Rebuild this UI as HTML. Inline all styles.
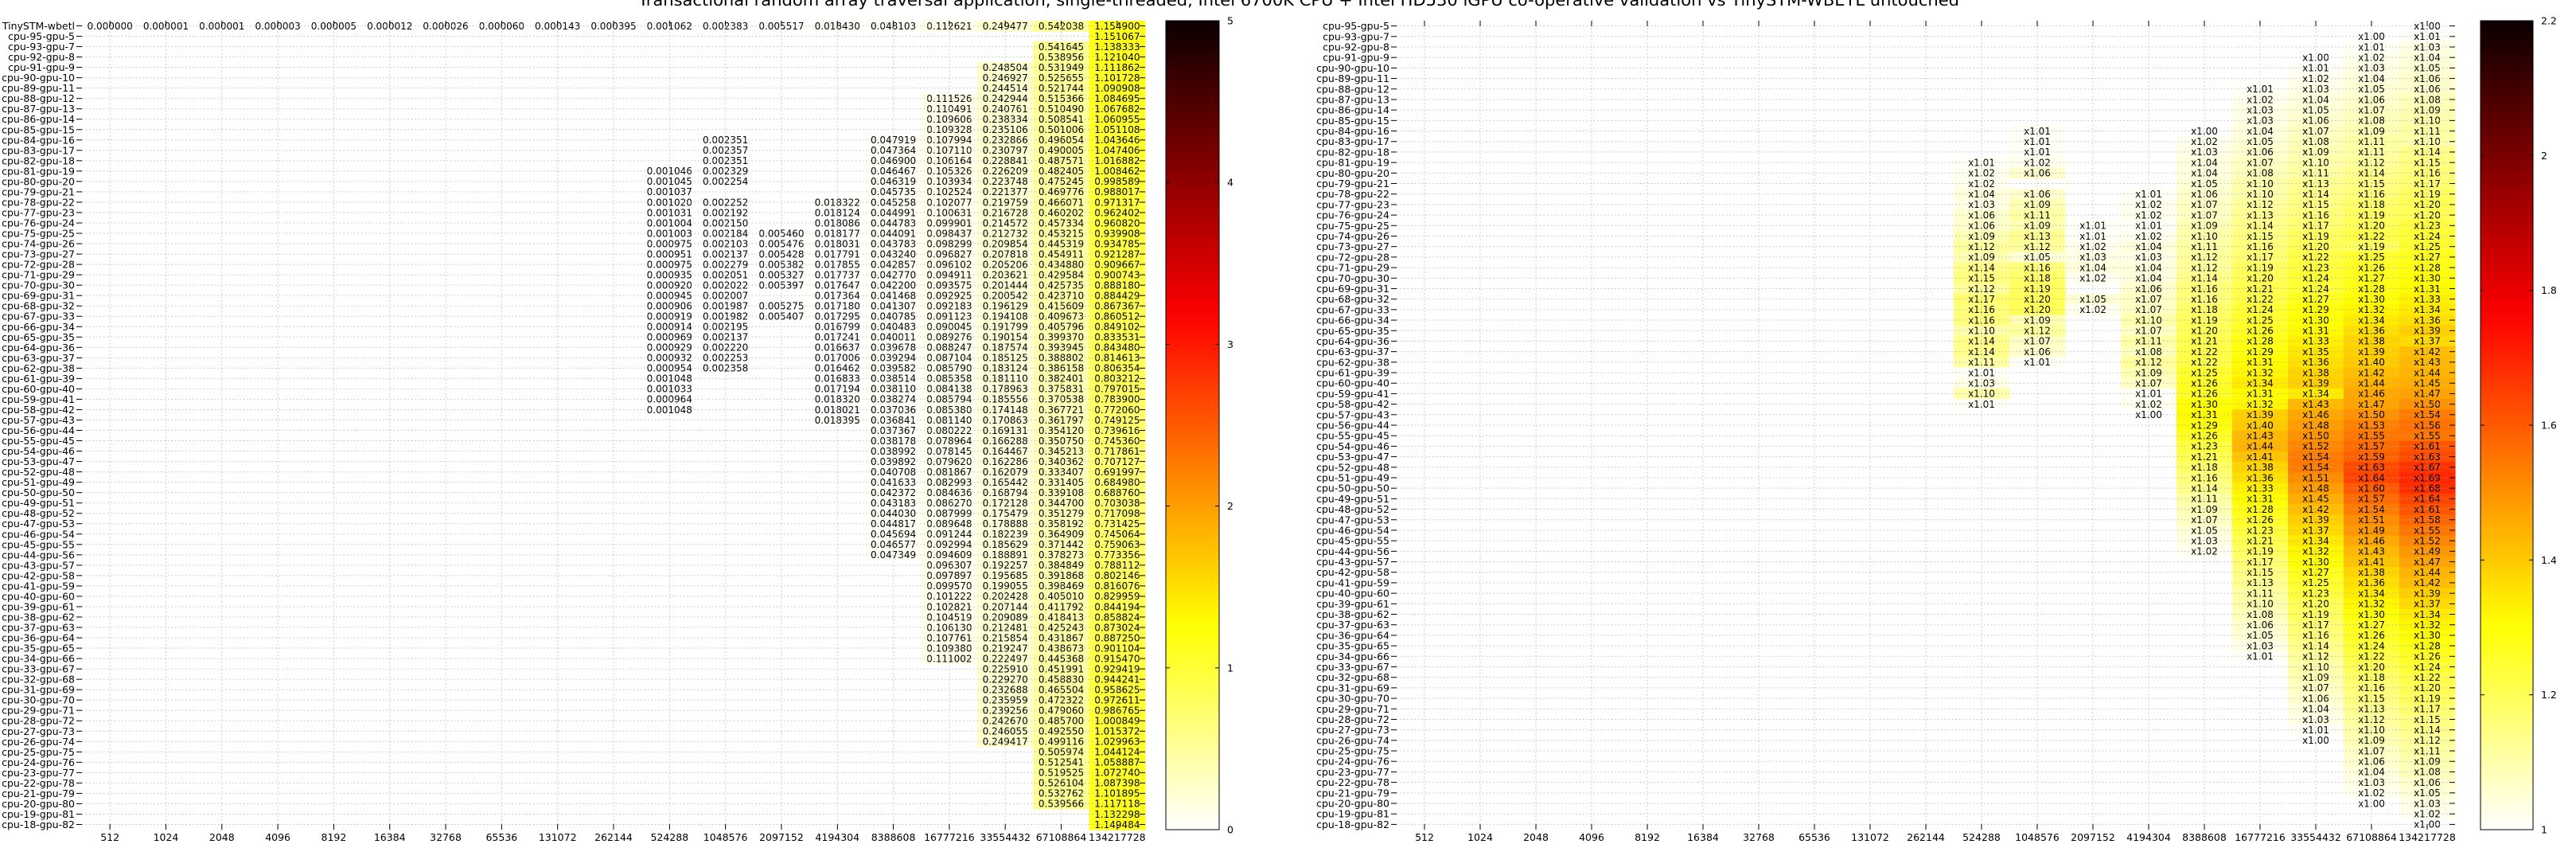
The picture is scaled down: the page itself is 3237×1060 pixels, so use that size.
<!DOCTYPE html>
<html><head><meta charset="utf-8">
<style>
html,body{margin:0;padding:0;background:#fff;}
svg{display:block;font-family:"DejaVu Sans","Liberation Sans",sans-serif;}
</style></head>
<body>
<svg id="chart" xmlns="http://www.w3.org/2000/svg" width="3237" height="1060" viewBox="0 0 3237 1060">
<text x="1632" y="7" font-size="20" text-anchor="middle" textLength="1660" lengthAdjust="spacingAndGlyphs">Transactional random array traversal application, single-threaded, Intel 6700K CPU + Intel HD530 iGPU co-operative validation vs TinySTM-WBETL untouched</text>
<g id="left"></g>
<g id="right"></g>
</svg>
<script>
const colLabels = ["512","1024","2048","4096","8192","16384","32768","65536","131072","262144","524288","1048576","2097152","4194304","8388608","16777216","33554432","67108864","134217728"];
const tinyRow = [0.000000,0.000001,0.000001,0.000003,0.000005,0.000012,0.000026,0.000060,0.000143,0.000395,0.001062,0.002383,0.005517,0.018430,0.048103,0.112621,0.249477,0.542038,1.154900];
// left columns: start row (in left row index) + values
const L10start = 14;
const L10 = [0.001046,0.001045,0.001037,0.001020,0.001031,0.001004,0.001003,0.000975,0.000951,0.000975,0.000935,0.000920,0.000945,0.000906,0.000919,0.000914,0.000969,0.000929,0.000932,0.000954,0.001048,0.001033,0.000964,0.001048];
const L11start = 11;
const L11 = [0.002351,0.002357,0.002351,0.002329,0.002254,null,0.002252,0.002192,0.002150,0.002184,0.002103,0.002137,0.002279,0.002051,0.002022,0.002007,0.001987,0.001982,0.002195,0.002137,0.002220,0.002253,0.002358];
const L12start = 20;
const L12 = [0.005460,0.005476,0.005428,0.005382,0.005327,0.005397,null,0.005275,0.005407];
const L13start = 17;
const L13 = [0.018322,0.018124,0.018086,0.018177,0.018031,0.017791,0.017855,0.017737,0.017647,0.017364,0.017180,0.017295,0.016799,0.017241,0.016637,0.017006,0.016462,0.016833,0.017194,0.018320,0.018021,0.018395];
const L14start = 11;
const L14 = [0.047919,0.047364,0.046900,0.046467,0.046319,0.045735,0.045258,0.044991,0.044783,0.044091,0.043783,0.043240,0.042857,0.042770,0.042200,
0.041468,0.041307,0.040785,0.040483,0.040011,0.039678,0.039294,0.039582,0.038514,0.038110,0.038274,0.037036,0.036841,0.037367,0.038178,0.038992,0.039892,0.040708,0.041633,0.042372,0.043183,
0.044030,0.044817,0.045694,0.046577,0.047349];
const L15start = 7;
const L15 = [0.111526,0.110491,0.109606,0.109328,0.107994,0.107110,0.106164,0.105326,0.103934,0.102524,0.102077,0.100631,0.099901,0.098437,0.098299,0.096827,0.096102,0.094911,0.093575,
0.092925,0.092183,0.091123,0.090045,0.089276,0.088247,0.087104,0.085790,0.085358,0.084138,0.085794,0.085380,0.081140,0.080222,0.078964,0.078145,0.079620,0.081867,0.082993,0.084636,0.086270,
0.087999,0.089648,0.091244,0.092994,0.094609,0.096307,0.097897,0.099570,0.101222,0.102821,0.104519,0.106130,0.107761,0.109380,0.111002];
const L16start = 4;
const L16 = [0.248504,0.246927,0.244514,0.242944,0.240761,0.238334,0.235106,0.232866,0.230797,0.228841,0.226209,0.223748,0.221377,0.219759,0.216728,0.214572,0.212732,0.209854,0.207818,0.205206,0.203621,0.201444,
0.200542,0.196129,0.194108,0.191799,0.190154,0.187574,0.185125,0.183124,0.181110,0.178963,0.185556,0.174148,0.170863,0.169131,0.166288,0.164467,0.162286,0.162079,0.165442,0.168794,0.172128,
0.175479,0.178888,0.182239,0.185629,0.188891,0.192257,0.195685,0.199055,0.202428,0.207144,0.209089,0.212481,0.215854,0.219247,0.222497,0.225910,0.229270,0.232688,0.235959,0.239256,0.242670,0.246055,0.249417];
const L17start = 2;
const L17 = [0.541645,0.538956,0.531949,0.525655,0.521744,0.515366,0.510490,0.508541,0.501006,0.496054,0.490005,0.487571,0.482405,0.475245,0.469776,0.466071,0.460202,0.457334,0.453215,0.445319,0.454911,0.434880,0.429584,0.425735,
0.423710,0.415609,0.409673,0.405796,0.399370,0.393945,0.388802,0.386158,0.382401,0.375831,0.370538,0.367721,0.361797,0.354120,0.350750,0.345213,0.340362,0.333407,0.331405,0.339108,0.344700,
0.351279,0.358192,0.364909,0.371442,0.378273,0.384849,0.391868,0.398469,0.405010,0.411792,0.418413,0.425243,0.431867,0.438673,0.445368,0.451991,0.458830,0.465504,0.472322,0.479060,0.485700,0.492550,0.499116,0.505974,0.512541,0.519525,0.526104,0.532762,0.539566];
const L18start = 1;
const L18 = [1.151067,1.138333,1.121040,1.111862,1.101728,1.090908,1.084695,1.067682,1.060955,1.051108,1.043646,1.047406,1.016882,1.008462,0.998589,0.988017,0.971317,0.962402,0.960820,0.939908,0.934785,0.921287,0.909667,0.900743,0.888180,
0.884429,0.867367,0.860512,0.849102,0.833531,0.843480,0.814613,0.806354,0.803212,0.797015,0.783900,0.772060,0.749125,0.739616,0.745360,0.717861,0.707127,0.691997,0.684980,0.688760,0.703038,
0.717098,0.731425,0.745064,0.759063,0.773356,0.788112,0.802146,0.816076,0.829959,0.844194,0.858824,0.873024,0.887250,0.901104,0.915470,0.929419,0.944241,0.958625,0.972611,0.986765,1.000849,1.015372,1.029963,1.044124,1.058887,1.072740,1.087398,1.101895,1.117118,1.132298,1.149484];
// right columns: start row (in right row index) + values
const R10start = 13;
const R10 = [1.01,1.02,1.02,1.04,1.03,1.06,1.06,1.09,1.12,1.09,1.14,1.15,1.12,1.17,1.16,1.16,1.10,1.14,1.14,1.11,1.01,1.03,1.10,1.01];
const R11start = 10;
const R11 = [1.01,1.01,1.01,1.02,1.06,null,1.06,1.09,1.11,1.09,1.13,1.12,1.05,1.16,1.18,1.19,1.20,1.20,1.09,1.12,1.07,1.06,1.01];
const R12start = 19;
const R12 = [1.01,1.01,1.02,1.03,1.04,1.02,null,1.05,1.02];
const R13start = 16;
const R13 = [1.01,1.02,1.02,1.01,1.02,1.04,1.03,1.04,1.04,1.06,1.07,1.07,1.10,1.07,1.11,1.08,1.12,1.09,1.07,1.01,1.02,1.00];
const R14start = 10;
const R14 = [1.00,1.02,1.03,1.04,1.04,1.05,1.06,1.07,1.07,1.09,1.10,1.11,1.12,1.12,1.14,1.16,1.16,1.18,1.19,1.20,1.21,1.22,1.22,1.25,1.26,1.26,1.30,1.31,1.29,1.26,1.23,1.21,1.18,1.16,1.14,1.11,1.09,1.07,1.05,1.03,1.02];
const R15start = 6;
const R15 = [1.01,1.02,1.03,1.03,1.04,1.05,1.06,1.07,1.08,1.10,1.10,1.12,1.13,1.14,1.15,1.16,1.17,1.19,1.20,1.21,1.22,1.24,1.25,1.26,1.28,1.29,1.31,1.32,1.34,1.31,1.32,1.39,1.40,1.43,1.44,1.41,1.38,1.36,1.33,1.31,1.28,1.26,1.23,1.21,1.19,1.17,1.15,1.13,1.11,1.10,1.08,1.06,1.05,1.03,1.01];
const R16start = 3;
const R16 = [1.00,1.01,1.02,1.03,1.04,1.05,1.06,1.07,1.08,1.09,1.10,1.11,1.13,1.14,1.15,1.16,1.17,1.19,1.20,1.22,1.23,1.24,1.24,1.27,1.29,1.30,1.31,1.33,1.35,1.36,1.38,1.39,1.34,1.43,1.46,1.48,1.50,1.52,1.54,1.54,1.51,1.48,1.45,1.42,1.39,1.37,1.34,1.32,1.30,1.27,1.25,1.23,1.20,1.19,1.17,1.16,1.14,1.12,1.10,1.09,1.07,1.06,1.04,1.03,1.01,1.00];
const R17start = 1;
const R17 = [1.00,1.01,1.02,1.03,1.04,1.05,1.06,1.07,1.08,1.09,1.11,1.11,1.12,1.14,1.15,1.16,1.18,1.19,1.20,1.22,1.19,1.25,1.26,1.27,1.28,1.30,1.32,1.34,1.36,1.38,1.39,1.40,1.42,1.44,1.46,1.47,1.50,1.53,1.55,1.57,1.59,1.63,1.64,1.60,1.57,1.54,1.51,1.49,1.46,1.43,1.41,1.38,1.36,1.34,1.32,1.30,1.27,1.26,1.24,1.22,1.20,1.18,1.16,1.15,1.13,1.12,1.10,1.09,1.07,1.06,1.04,1.03,1.02,1.00];
const R18start = 0;
const R18 = [1.00,1.01,1.03,1.04,1.05,1.06,1.06,1.08,1.09,1.10,1.11,1.10,1.14,1.15,1.16,1.17,1.19,1.20,1.20,1.23,1.24,1.25,1.27,1.28,1.30,1.31,1.33,1.34,1.36,1.39,1.37,1.42,1.43,1.44,1.45,1.47,1.50,1.54,1.56,1.55,1.61,1.63,1.67,1.69,1.68,1.64,1.61,1.58,1.55,1.52,1.49,1.47,1.44,1.42,1.39,1.37,1.34,1.32,1.30,1.28,1.26,1.24,1.22,1.20,1.19,1.17,1.15,1.14,1.12,1.11,1.09,1.08,1.06,1.05,1.03,1.02,1.00];
const leftTicks = [0,1,2,3,4,5];
const rightTicks = [1,1.2,1.4,1.6,1.8,2,2.2];

const NS = "http://www.w3.org/2000/svg";
function mk(tag, attrs, parent, txt){
  const e = document.createElementNS(NS, tag);
  for (const k in attrs) e.setAttribute(k, attrs[k]);
  if (txt !== undefined) e.textContent = txt;
  parent.appendChild(e);
  return e;
}
function hotR(t){
  t = Math.max(0, Math.min(1, t));
  const s = 1 - t;
  const k1 = 0.365079, k2 = 0.746032;
  const r = s < k1 ? 0.0416 + (1 - 0.0416) * s / k1 : 1;
  const g = s < k1 ? 0 : (s < k2 ? (s - k1) / (k2 - k1) : 1);
  const b = s < k2 ? 0 : (s - k2) / (1 - k2);
  return "rgb(" + Math.round(r*255) + "," + Math.round(g*255) + "," + Math.round(b*255) + ")";
}

const rowLabelsRight = ["cpu-95-gpu-5"];
for (let c = 93; c >= 18; c--) rowLabelsRight.push("cpu-" + c + "-gpu-" + (100 - c));
const rowLabelsLeft = ["TinySTM-wbetl"].concat(rowLabelsRight);

function drawHeatmap(g, opt){
  const nR = opt.rows.length, nC = colLabels.length;
  const cw = (opt.x1 - opt.x0) / nC, ch = (opt.y1 - opt.y0) / nR;
  const xc = i => opt.x0 + cw * (i + 0.5);
  const yc = r => opt.y0 + ch * (r + 0.5);
  const cells = mk("g", {}, g);
  
  
  const texts = mk("g", {"font-size": "12", "text-anchor": "middle", fill: "#000"}, g);
  
  
  function cell(r, c, v){
    if (v === null || v === undefined) return;
    const rect = mk("rect", {x: (opt.x0 + cw*c).toFixed(2), y: (opt.y0 + ch*r).toFixed(2), width: (cw+0.6).toFixed(2), height: (ch+0.6).toFixed(2), fill: hotR((v - opt.vmin)/(opt.vmax - opt.vmin))}, cells);
    
    
    const t = mk("text", {x: xc(c).toFixed(2), y: (yc(r) + 4.3).toFixed(2)}, texts, opt.fmt(v));
    
    
  }
  opt.cols.forEach(col => col.vals.forEach((v, k) => cell(col.start + k, col.c, v)));
  // grid
  const grid = mk("g", {stroke: "#b0b0b0", "stroke-width": "1", "stroke-dasharray": "1.5,3", opacity: "0.8"}, g);
  
  
  for (let c = 0; c < nC; c++) mk("line", {x1: xc(c), x2: xc(c), y1: opt.y0, y2: opt.y1}, grid);
  for (let r = 0; r < nR; r++) mk("line", {x1: opt.x0, x2: opt.x1, y1: yc(r), y2: yc(r)}, grid);
  // ticks
  const ticks = mk("g", {stroke: "#000", "stroke-width": "1"}, g);
  
  
  for (let r = 0; r < nR; r++){
    mk("line", {x1: opt.x0 - 7, x2: opt.x0, y1: yc(r), y2: yc(r)}, ticks);
    mk("line", {x1: opt.x1 - 7, x2: opt.x1, y1: yc(r), y2: yc(r)}, ticks);
  }
  for (let c = 0; c < nC; c++){
    mk("line", {x1: xc(c), x2: xc(c), y1: opt.y0, y2: opt.y0 + 7}, ticks);
    mk("line", {x1: xc(c), x2: xc(c), y1: opt.y1 - 7, y2: opt.y1}, ticks);
  }
  const yl = mk("g", {"font-size": "12.5", "text-anchor": "end"}, g);
  
  
  opt.rows.forEach((lab, r) => {
    const t = mk("text", {x: opt.x0 - 9, y: (yc(r) + 4.5).toFixed(2)}, yl, lab);
    
    
  });
  const xl = mk("g", {"font-size": "12.5", "text-anchor": "middle"}, g);
  
  
  colLabels.forEach((lab, c) => {
    const t = mk("text", {x: xc(c).toFixed(2), y: opt.y1 + 14}, xl, lab);
    
    
  });
  // colorbar
  const cb = mk("g", {}, g);
  
  
  const gid = opt.id + "-grad";
  const defs = mk("defs", {}, cb);
  const lg = mk("linearGradient", {id: gid, x1: "0", y1: "1", x2: "0", y2: "0"}, defs);
  for (let i = 0; i <= 40; i++) mk("stop", {offset: (i/40).toFixed(3), "stop-color": hotR(i/40)}, lg);
  mk("rect", {x: opt.cbx, y: opt.y0, width: opt.cbw, height: opt.y1 - opt.y0, fill: "url(#" + gid + ")", stroke: "#000", "stroke-width": "1"}, cb);
  const cbl = mk("g", {"font-size": "12.5"}, cb);
  opt.cbTicks.forEach(v => {
    const y = opt.y1 - (v - opt.vmin)/(opt.vmax - opt.vmin) * (opt.y1 - opt.y0);
    mk("line", {x1: opt.cbx, x2: opt.cbx + 5, y1: y, y2: y, stroke: "#000"}, cb);
    mk("line", {x1: opt.cbx + opt.cbw - 5, x2: opt.cbx + opt.cbw, y1: y, y2: y, stroke: "#000"}, cb);
    const t = mk("text", {x: opt.cbx + opt.cbw + 10, y: y + 4.5}, cbl, String(v));
    
    
  });
}

const leftCols = [
  {c:10, start:L10start, vals:L10},{c:11, start:L11start, vals:L11},{c:12, start:L12start, vals:L12},
  {c:13, start:L13start, vals:L13},{c:14, start:L14start, vals:L14},{c:15, start:L15start, vals:L15},
  {c:16, start:L16start, vals:L16},{c:17, start:L17start, vals:L17},{c:18, start:L18start, vals:L18}
];
tinyRow.forEach((v, c) => leftCols.push({c: c, start: 0, vals: [v]}));
drawHeatmap(document.getElementById("left"), {
  id: "left", rows: rowLabelsLeft, cols: leftCols, x0: 103, x1: 1439, y0: 26, y1: 1042,
  vmin: 0, vmax: 5, fmt: v => v.toFixed(6), cbx: 1465, cbw: 67, cbTicks: leftTicks
});
const rightCols = [
  {c:10, start:R10start, vals:R10},{c:11, start:R11start, vals:R11},{c:12, start:R12start, vals:R12},
  {c:13, start:R13start, vals:R13},{c:14, start:R14start, vals:R14},{c:15, start:R15start, vals:R15},
  {c:16, start:R16start, vals:R16},{c:17, start:R17start, vals:R17},{c:18, start:R18start, vals:R18}
];
drawHeatmap(document.getElementById("right"), {
  id: "right", rows: rowLabelsRight, cols: rightCols, x0: 1755, x1: 3085, y0: 26, y1: 1042,
  vmin: 1, vmax: 2.2, fmt: v => "x" + v.toFixed(2), cbx: 3117, cbw: 66, cbTicks: rightTicks
});
</script>
</body></html>
